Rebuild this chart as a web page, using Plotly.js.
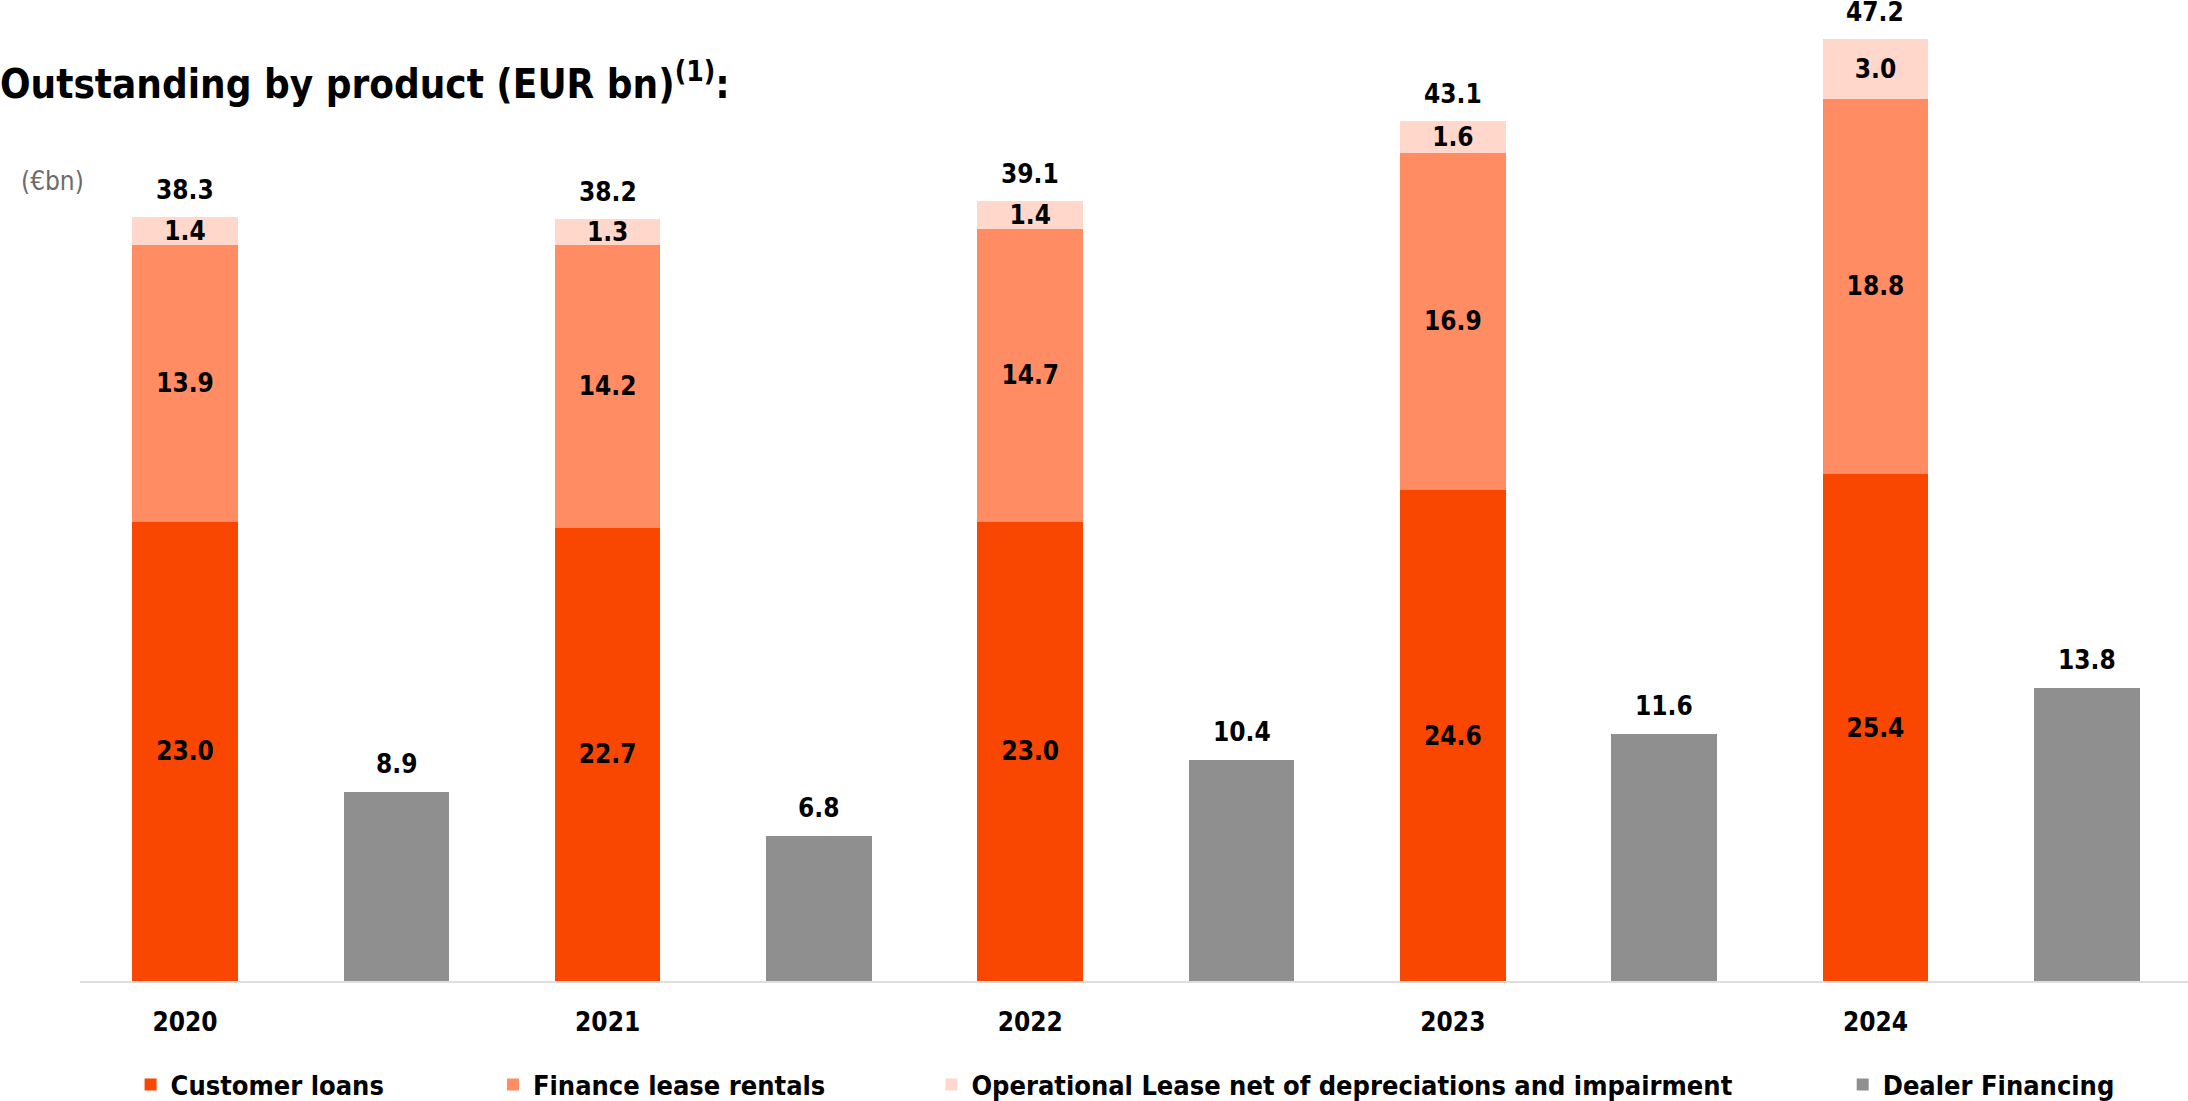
<!DOCTYPE html>
<html>
<head>
<meta charset="utf-8">
<script src="https://cdn.plot.ly/plotly-3.0.1.min.js"></script>
<style>html,body{margin:0;padding:0;background:#fff;}#chart{width:2188px;height:1101px;}</style>
</head>
<body>
<div id="chart"></div>
<script>
// ---- data ----
const years = ["2020", "2021", "2022", "2023", "2024"];
const customerLoans = [23.0, 22.7, 23.0, 24.6, 25.4];
const financeLease = [13.9, 14.2, 14.7, 16.9, 18.8];
const operationalLease = [1.4, 1.3, 1.4, 1.6, 3.0];
const totals = [38.3, 38.2, 39.1, 43.1, 47.2];
const dealerFinancing = [8.9, 6.8, 10.4, 11.6, 13.8];
const seriesNames = ["Customer loans", "Finance lease rentals", "Operational Lease net of depreciations and impairment", "Dealer Financing"];
const unitLabel = "(€bn)";
const chartTitle = "Outstanding by product (EUR bn)<sup>(1)</sup>:";

// ---- styling ----
const FONT = "DejaVu Sans Condensed, DejaVu Sans, sans-serif";
const colors = ["#F94600", "#FF8C63", "#FFD8CB", "#8F8F8F"];
const labelFont = {family: FONT, size: 26, color: "#000", weight: 700};

const xStack = years.map((_, i) => i * 2);
const xDealer = years.map((_, i) => i * 2 + 1);
const fmt = v => v.toFixed(1);

function stackTrace(vals, idx, legendId) {
  return {
    type: "bar", x: xStack, y: vals, name: seriesNames[idx],
    marker: {color: colors[idx], line: {width: 0}},
    width: 0.5,
    text: vals.map(fmt), textposition: "inside", insidetextanchor: "middle",
    textangle: 0, constraintext: "none", cliponaxis: false,
    textfont: labelFont, insidetextfont: labelFont,
    hoverinfo: "skip", legend: legendId
  };
}

const traces = [
  stackTrace(customerLoans, 0, "legend"),
  stackTrace(financeLease, 1, "legend2"),
  stackTrace(operationalLease, 2, "legend3"),
  {
    type: "bar", x: xDealer, y: dealerFinancing, name: seriesNames[3],
    marker: {color: colors[3], line: {width: 0}}, width: 0.5,
    yaxis: "y2", hoverinfo: "skip", legend: "legend4"
  }
];

const annotations = [];
totals.forEach((t, i) => annotations.push({
  x: xStack[i], y: t, xref: "x", yref: "y", text: fmt(t), showarrow: false,
  yanchor: "middle", yshift: 27, font: labelFont
}));
dealerFinancing.forEach((v, i) => annotations.push({
  x: xDealer[i], y: v, xref: "x", yref: "y2", text: fmt(v), showarrow: false,
  yanchor: "middle", yshift: 28, font: labelFont
}));
annotations.push({
  x: -0.029, y: 0.8412, xref: "paper", yref: "paper", xanchor: "left", yanchor: "middle",
  text: unitLabel, showarrow: false,
  font: {family: FONT, size: 26, color: "#6b6b6b", weight: 400}
});

const legendFont = {family: FONT, size: 27, color: "#000", weight: 700};
function leg(x) {
  return {orientation: "h", x: x, xanchor: "left", y: -0.1094, yanchor: "middle",
          font: legendFont, bgcolor: "rgba(0,0,0,0)", borderwidth: 0, itemclick: false};
}

const layout = {
  width: 2188, height: 1101,
  margin: {l: 80, r: 0, t: 30, b: 120, autoexpand: false},
  paper_bgcolor: "#fff", plot_bgcolor: "#fff",
  barmode: "stack",
  title: {
    text: chartTitle, x: 0, xref: "container", xanchor: "left",
    y: 0.9237, yref: "container", yanchor: "middle",
    font: {family: FONT, size: 40, color: "#000", weight: 700}
  },
  xaxis: {
    range: [-0.497, 9.479], tickmode: "array", tickvals: xStack, ticktext: years,
    showline: true, linecolor: "#dedede", linewidth: 2, showgrid: false, zeroline: false,
    ticks: "", ticklabelstandoff: 17,
    tickfont: {family: FONT, size: 26, color: "#000", weight: 700}
  },
  yaxis: {range: [0, 47.65], visible: false, fixedrange: true},
  yaxis2: {range: [0, 44.73], overlaying: "y", visible: false, fixedrange: true},
  showlegend: true,
  legend: leg(0.0240),
  legend2: leg(0.1959),
  legend3: leg(0.4039),
  legend4: leg(0.8362),
  annotations: annotations
};

Plotly.newPlot("chart", traces, layout, {displayModeBar: false, staticPlot: true});
</script>
</body>
</html>
